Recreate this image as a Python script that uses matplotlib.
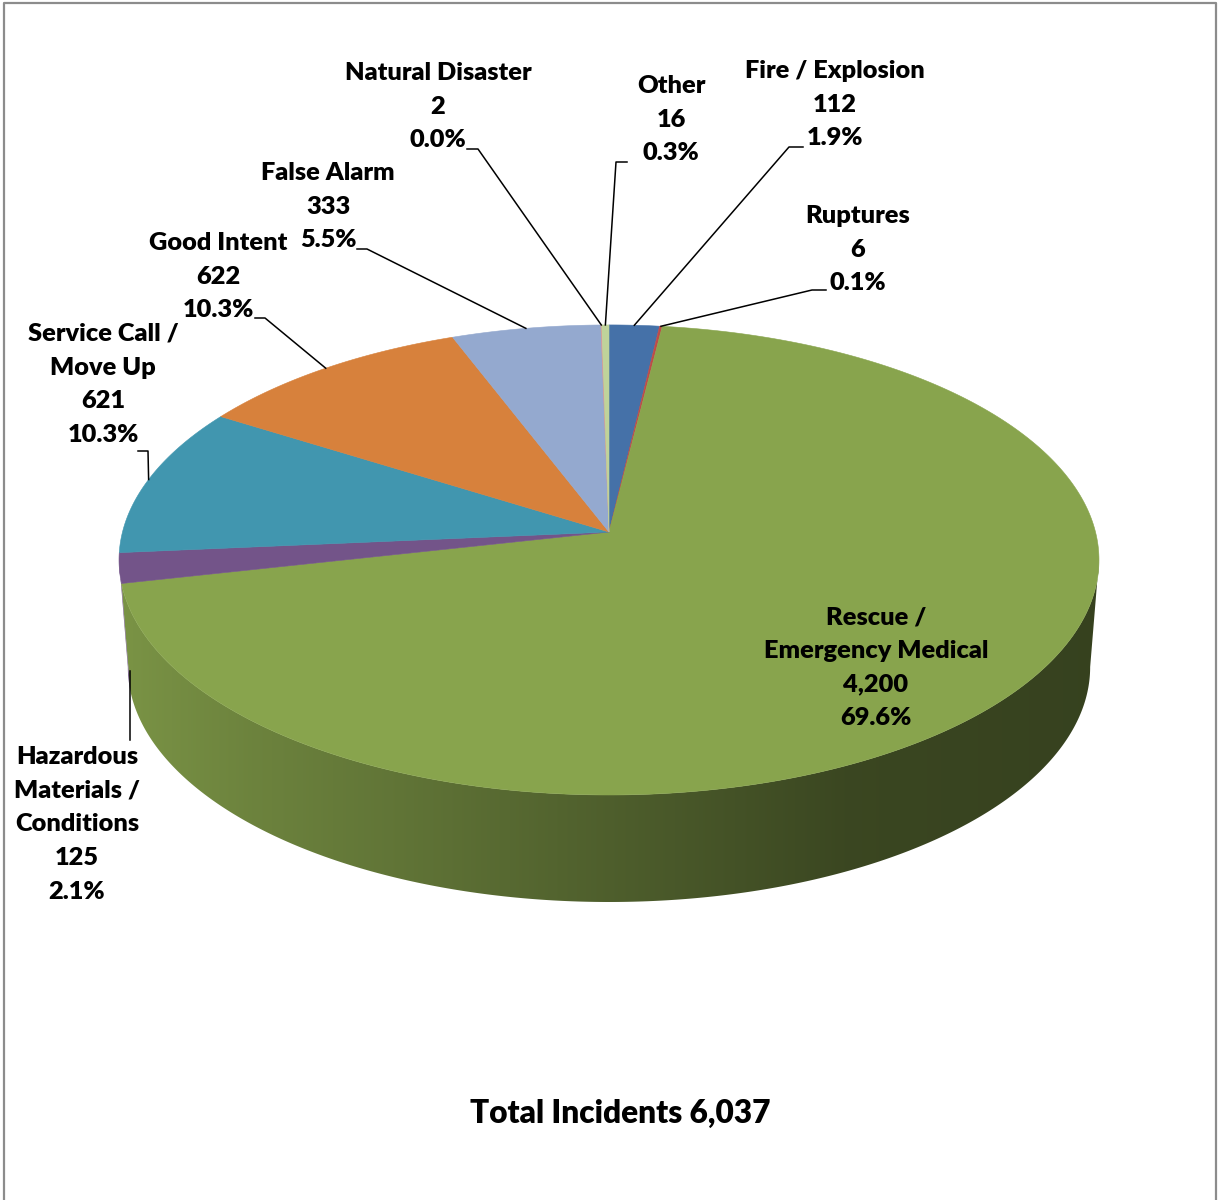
import numpy as np
import matplotlib.pyplot as plt
from matplotlib.patches import Polygon
from matplotlib.colors import to_rgb

plt.rcParams['font.family'] = ['Lato', 'DejaVu Sans']

# data, in clockwise order from 12 o'clock
categories = ['Fire / Explosion', 'Ruptures', 'Rescue /\nEmergency Medical',
              'Hazardous\nMaterials /\nConditions', 'Service Call /\nMove Up',
              'Good Intent', 'False Alarm', 'Natural Disaster', 'Other']
counts = [112, 6, 4200, 125, 621, 622, 333, 2, 16]
colors = ['#4571A8', '#BE4B48', '#88A44D', '#735489', '#4196AF',
          '#D7813C', '#94A9CF', '#D59592', '#BFD39A']

total = sum(counts)

# label layout: (center x, y of first line)
label_pos = [(835, 71), (858, 216), (876, 617), (77, 757), (103, 334),
             (218, 243), (328, 173), (438, 73), (671, 86)]
# leader elbows (start, elbow); None for labels inside the slice
leaders = [((803, 147), (789, 147)), ((826, 290), (812, 290)), None,
           ((None, 740), None), ((138, 451), (148, 451)),
           ((255, 318), (265, 318)), ((357, 249), (367, 249)),
           ((467, 149), (478, 149)), ((627, 162), (616, 162))]

# pie geometry (pixels)
cx, cy = 609, 532
rx, ry, persp = 486.5, 231.7, 0.119
depth = 107
bottom_scale = 0.982
pitch = 33.7


def project(theta, bottom=False):
    t = np.radians(theta)
    x = np.sin(t)
    z = -np.cos(t)
    w = 1 - persp * z
    if bottom:
        return cx + rx * bottom_scale * x / w, cy + depth + ry * z / w
    return cx + rx * x / w, cy + ry * z / w


def shade(x):
    return np.interp(x, [120, 250, 400, 620, 850, 1100],
                     [0.90, 0.80, 0.71, 0.57, 0.43, 0.40])


fig = plt.figure(figsize=(12.19, 12.0), dpi=100)
ax = fig.add_axes([0, 0, 1, 1])
ax.axis('off')

bounds = np.concatenate([[0], np.cumsum(counts)]) / total * 360

# side of the pie, shaded left to right
th_r = np.degrees(np.arccos(-persp))
th_l = 360 - th_r
xcols = np.arange(1219) + 0.5
for i in range(len(counts)):
    lo, hi = max(bounds[i], th_r), min(bounds[i + 1], th_l)
    if hi <= lo:
        continue
    th = np.linspace(lo, hi, max(3, int(hi - lo) * 2 + 2))
    tx, ty = project(th)
    bx, by = project(th[::-1], bottom=True)
    pts = list(zip(tx, ty)) + list(zip(bx, by))
    poly = Polygon(pts, closed=True, facecolor='none', edgecolor='none')
    ax.add_patch(poly)
    grad = np.array(to_rgb(colors[i]))[None, None, :] * shade(xcols)[None, :, None]
    im = ax.imshow(grad, extent=(0, 1219, 1200, 0), aspect='auto',
                   interpolation='bilinear', zorder=1)
    im.set_clip_path(poly)

# top face
for i in range(len(counts)):
    th = np.linspace(bounds[i], bounds[i + 1], max(3, int((bounds[i + 1] - bounds[i]) * 2) + 2))
    xs, ys = project(th)
    pts = [(cx, cy)] + list(zip(xs, ys))
    ax.add_patch(Polygon(pts, closed=True, facecolor=colors[i], edgecolor=colors[i],
                         lw=0.4, zorder=2))

# labels and leader lines
for i, name in enumerate(categories):
    lines = name.split('\n') + [f'{counts[i]:,}', f'{counts[i] / total * 100:.1f}%']
    lx, ly = label_pos[i]
    for j, s in enumerate(lines):
        ax.text(lx, ly + j * pitch, s, ha='center', va='center', fontsize=18.3,
                fontweight='heavy', color='black', zorder=4)
    if leaders[i] is None:
        continue
    mid = (bounds[i] + bounds[i + 1]) / 2
    start, elbow = leaders[i]
    if elbow is None:
        ex, ey = project(mid, bottom=True)
        ex += 2
        ax.plot([ex, ex], [start[1], ey - 4], color='black', lw=1.1, zorder=3)
    else:
        ex, ey = project(mid)
        ax.plot([start[0], elbow[0], ex], [start[1], elbow[1], ey],
                color='black', lw=1.1, zorder=3)

ax.text(620, 1113, f'Total Incidents {total:,}', ha='center', va='center',
        fontsize=22.8, fontweight='heavy', color='black')

# chart border
ax.plot([3.5, 3.5, 1216, 1216], [1200, 2.5, 2.5, 1200], color='#8C8C8C', lw=1.6)

ax.set_xlim(0, 1219)
ax.set_ylim(1200, 0)

fig.savefig('out.png', dpi=100)
